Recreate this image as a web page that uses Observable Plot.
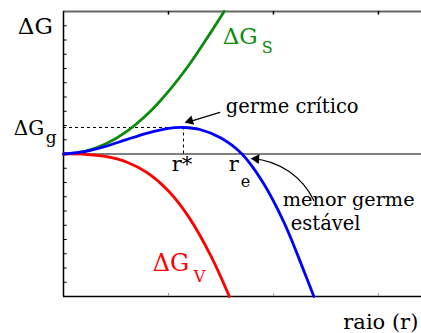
<!DOCTYPE html>
<html><head><meta charset="utf-8">
<script src="https://cdn.jsdelivr.net/npm/d3@7"></script>
<script src="https://cdn.jsdelivr.net/npm/@observablehq/plot@0.6"></script>
<style>body{margin:0;background:#fff}</style>
</head><body><div id="chart"></div>
<script>
// Surface term ΔG_S (green)
const rS  = [0, 0.2, 0.4, 0.6, 0.8, 1.0, 1.2, 1.4, 1.53];
const dGS = [0, 0.18, 0.7, 1.57, 2.8, 4.4, 6.3, 8.5, 10.0];
// Volume term ΔG_V (red)
const rV  = [0, 0.2, 0.4, 0.6, 0.8, 1.0, 1.2, 1.4, 1.58];
const dGV = [0, -0.02, -0.17, -0.56, -1.33, -2.6, -4.5, -7.1, -10.0];
// Total ΔG (blue)
const rT  = [0, 0.2, 0.4, 0.6, 0.8, 1.0, 1.14, 1.3, 1.5, 1.7, 1.9, 2.1, 2.3, 2.385];
const dGT = [0, 0.16, 0.53, 1.01, 1.47, 1.8, 1.86, 1.72, 1.12, 0.0, -2.0, -4.8, -8.4, -10.0];
// critical point
const rStar = 1.143, dGg = 1.86;
// ticks
const xTicks = [1, 2, 3];
const yTicks = [-9,-8,-7,-6,-5,-4,-3,-2,-1,0,1,2,3,4,5,6,7,8,9];
// texts
const labels = ["ΔG", "ΔG", "g", "ΔG", "S", "ΔG", "V", "germe crítico", "menor germe", "estável", "r*", "r", "e", "raio (r)"];

const toRows = (xs, ys) => xs.map((x, i) => ({x, y: ys[i]}));
const S = toRows(rS, dGS), V = toRows(rV, dGV), T = toRows(rT, dGT);
const serifFont = "DejaVu Serif";
const txt = (i, x, y, o = {}) => Plot.text([labels[i] + ""], {x: () => x, y: () => y, text: d => d, textAnchor: "start", lineAnchor: "bottom", fontSize: 20, fontFamily: serifFont, ...o});

const chart = Plot.plot({
  width: 421, height: 333,
  marginLeft: 63, marginRight: 0, marginTop: 11, marginBottom: 37,
  x: {domain: [0, 3.41], axis: null},
  y: {domain: [-10, 10], axis: null},
  marks: [
    // frame
    Plot.ruleY([10], {stroke: "#666", strokeWidth: 2}),
    Plot.ruleY([-10], {stroke: "black", strokeWidth: 1.5}),
    Plot.ruleY([0], {stroke: "black", strokeWidth: 1.2}),
    Plot.ruleX([0], {y1: -10, y2: 10, stroke: "black", strokeWidth: 1.5}),
    Plot.ruleY(yTicks, {x1: 0, x2: 0.035, stroke: "black", strokeWidth: 1}),
    Plot.ruleX(xTicks, {y1: 10, y2: 9.75, stroke: "black", strokeWidth: 1.5}),
    Plot.ruleX(xTicks, {y1: -10, y2: -9.8, stroke: "#999", strokeWidth: 1}),
    // dotted guides
    Plot.ruleY([dGg], {x1: 0, x2: rStar, stroke: "black", strokeWidth: 1, strokeDasharray: "3,3"}),
    Plot.ruleX([rStar], {y1: 0, y2: dGg, stroke: "black", strokeWidth: 1, strokeDasharray: "3,3"}),
    // curves
    Plot.line(S, {x: "x", y: "y", stroke: "#0b8a0b", strokeWidth: 2.8, curve: "catmull-rom"}),
    Plot.line(V, {x: "x", y: "y", stroke: "#ff0000", strokeWidth: 2.8, curve: "catmull-rom"}),
    Plot.line(T, {x: "x", y: "y", stroke: "#0000ff", strokeWidth: 2.8, curve: "catmull-rom"}),
    // arrows
    Plot.arrow([0], {x1: () => 1.489, y1: () => 2.92, x2: () => 1.17, y2: () => 2.2, headLength: 0, stroke: "black", strokeWidth: 1.2}),
    Plot.dot([0], {x: () => 1.155, y: () => 2.22, symbol: "triangle", r: 3.6, fill: "black", stroke: "none", rotate: 254, dx: 5.3, dy: -1.5}),
    Plot.arrow([0], {x1: () => 2.384, y1: () => -3.27, x2: () => 1.80, y2: () => -0.32, bend: -30, headLength: 0, stroke: "black", strokeWidth: 1.2}),
    Plot.dot([0], {x: () => 1.784, y: () => -0.32, symbol: "triangle", r: 3.6, fill: "black", stroke: "none", rotate: 274, dx: 5.5, dy: 0.4}),
    // labels
    txt(0, -0.435, 8.45, {fontSize: 23}),
    txt(1, -0.473, 1.30, {fontSize: 20}),
    txt(2, -0.169, 0.74, {fontSize: 17}),
    txt(3, 1.517, 7.71, {fontSize: 23, fill: "#0b8a0b"}),
    txt(4, 1.889, 7.08, {fontSize: 16, fill: "#0b8a0b"}),
    txt(5, 0.850, -8.20, {fontSize: 24, fill: "#ff0000"}),
    txt(6, 1.241, -9.01, {fontSize: 16, fill: "#ff0000"}),
    txt(7, 1.546, 2.85, {fontSize: 19.5}),
    txt(8, 2.089, -3.63, {fontSize: 19.3}),
    txt(9, 2.165, -5.30, {fontSize: 19.5}),
    txt(10, 1.031, -1.16, {fontSize: 21}),
    txt(11, 1.574, -1.16, {fontSize: 21}),
    txt(12, 1.688, -2.29, {fontSize: 16}),
    txt(13, 3.38, -12.29, {fontSize: 21, textAnchor: "end"})
  ]
});
document.getElementById("chart").append(chart);
</script>
</body></html>
